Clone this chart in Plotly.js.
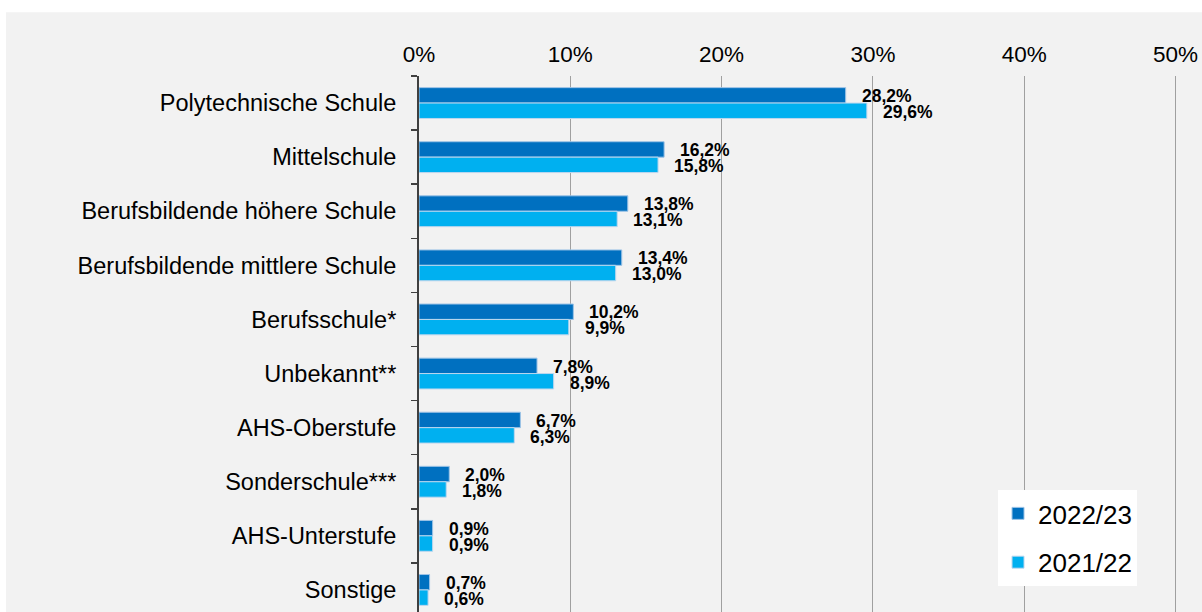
<!DOCTYPE html>
<html><head><meta charset="utf-8">
<script src="https://cdn.plot.ly/plotly-3.0.1.min.js"></script>
<style>html,body{margin:0;padding:0;overflow:hidden;background:#fff;}#c{width:1202px;height:630px;}</style>
</head><body><div id="c"></div>
<script>
const categories = ["Polytechnische Schule","Mittelschule","Berufsbildende höhere Schule","Berufsbildende mittlere Schule","Berufsschule*","Unbekannt**","AHS-Oberstufe","Sonderschule***","AHS-Unterstufe","Sonstige"];
const values2223 = [28.2,16.2,13.8,13.4,10.2,7.8,6.7,2.0,0.9,0.7];
const values2122 = [29.6,15.8,13.1,13.0,9.9,8.9,6.3,1.8,0.9,0.6];
const seriesNames = ["2022/23","2021/22"];
const tickVals = [0,10,20,30,40,50];
const tickText = ["0%","10%","20%","30%","40%","50%"];

const fmt = v => v.toFixed(1).replace('.', ',') + '%';
const traces = [
  {type:'bar', orientation:'h', name:seriesNames[0], y:categories, x:values2223, legendgroup:'a',
   marker:{color:'#0070c0', line:{color:'#9dc3e6', width:1}}, hoverinfo:'x+y'},
  {type:'bar', orientation:'h', name:seriesNames[1], y:categories, x:values2122, legendgroup:'b',
   marker:{color:'#00b0f0', line:{color:'#bdd7ee', width:1}}, hoverinfo:'x+y'}
];
const lblFont = {family:'Liberation Sans, Arial', size:17.5, color:'#000'};
const ann = [];
categories.forEach((c,i)=>{
  ann.push({x:values2223[i], y:c, xref:'x', yref:'y', text:'<b>'+fmt(values2223[i])+'</b>', showarrow:false, xanchor:'left', yanchor:'middle', xshift:14, yshift:7, font:lblFont});
  ann.push({x:values2122[i], y:c, xref:'x', yref:'y', text:'<b>'+fmt(values2122[i])+'</b>', showarrow:false, xanchor:'left', yanchor:'middle', xshift:14, yshift:-9, font:lblFont});
});
const layout = {
  width:1202, height:630,
  margin:{l:419, r:0, t:76, b:13, pad:0},
  paper_bgcolor:'#ffffff', plot_bgcolor:'#f2f2f2',
  font:{family:'Liberation Sans, Arial', color:'#000'},
  barmode:'group', bargap:0.43, bargroupgap:0,
  separators:',.',
  xaxis:{side:'top', range:[0,51.75], tickvals:tickVals, ticktext:tickText, showgrid:true, gridcolor:'#a0a0a0', gridwidth:1,
         zeroline:false, showline:false, ticks:'', tickfont:{size:22.5, color:'#000'}, ticklabelstandoff:9, fixedrange:true},
  yaxis:{autorange:'reversed', showline:true, linecolor:'#404040', linewidth:2, ticks:'outside', tickson:'boundaries', ticklen:6,
         tickcolor:'#404040', tickwidth:1.5, tickfont:{size:23.5, color:'#000'}, ticklabelstandoff:16, showgrid:false, zeroline:false},
  legend:{x:0.7395, y:0.2348, xanchor:'left', yanchor:'top', bgcolor:'#ffffff', font:{size:26, color:'#000'}, traceorder:'grouped', tracegroupgap:12,
          borderwidth:0, itemwidth:30},
  shapes:[{type:'rect', xref:'paper', yref:'paper', x0:-0.5275, x1:1.01, y0:-0.1, y1:1.118, fillcolor:'#f2f2f2', line:{width:0}, layer:'below'}],
  annotations:ann,
  showlegend:true
};
Plotly.newPlot('c', traces, layout, {displayModeBar:false, staticPlot:true});
</script></body></html>
